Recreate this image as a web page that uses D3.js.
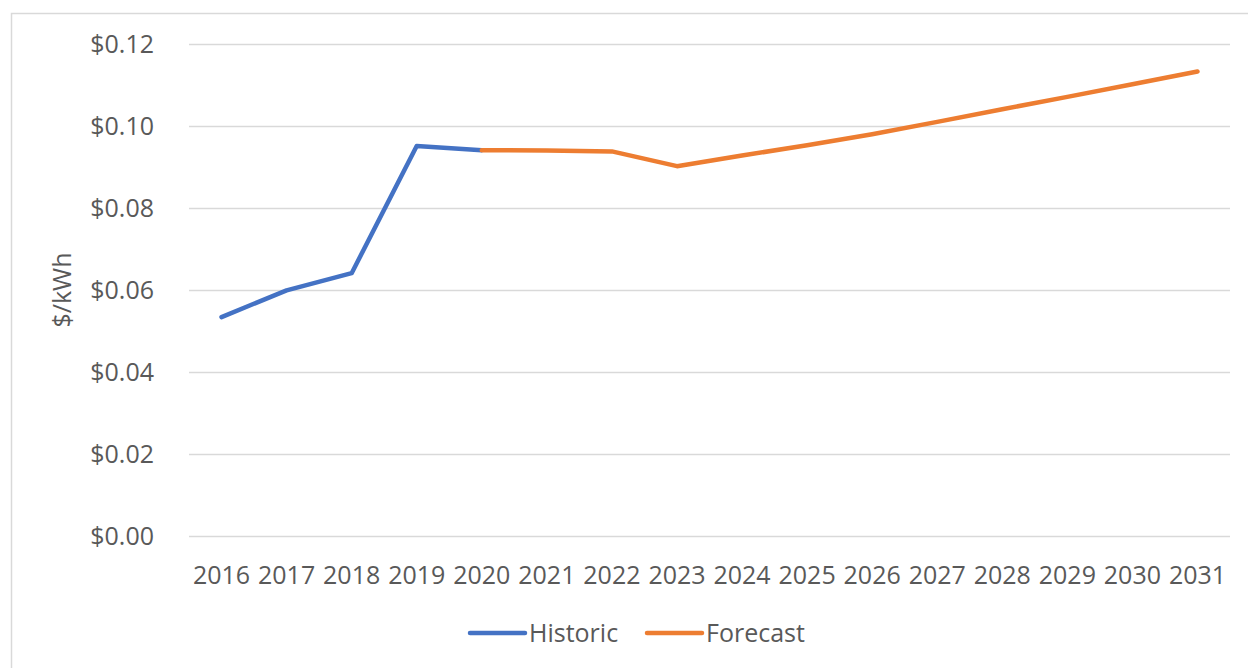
<!DOCTYPE html>
<html>
<head>
<meta charset="utf-8">
<script src="https://cdn.jsdelivr.net/npm/d3@7"></script>
<style>
  body { margin: 0; background: #fff; }
  text { font-family: "Open Sans", "Noto Sans", sans-serif; fill: #595959; }
</style>
</head>
<body>
<svg id="chart" width="1248" height="668"></svg>
<script>
const years = ['2016', '2017', '2018', '2019', '2020', '2021', '2022', '2023',
  '2024', '2025', '2026', '2027', '2028', '2029', '2030', '2031'];
const historic = [0.0534, 0.0599, 0.0641, 0.0951, 0.0941];
const forecast = [null, null, null, null, 0.0941, 0.0940, 0.0938, 0.0902,
  0.0928, 0.0953, 0.0980, 0.1010, 0.1041, 0.1071, 0.1102, 0.1133];
const yTicks = [0, 0.02, 0.04, 0.06, 0.08, 0.10, 0.12];
const seriesNames = ['Historic', 'Forecast'];
const seriesColors = ['#4472C4', '#ED7D31'];

const width = 1248;
const height = 668;
const margin = { left: 189, right: 18, top: 44, bottom: 132 };
const svg = d3.select('#chart');

// outer chart frame (only top and left edges are visible)
svg.append('path')
  .attr('d', `M11.5,${height} V13.5 H${width}`)
  .attr('fill', 'none')
  .attr('stroke', '#d9d9d9')
  .attr('stroke-width', 1.5);

const x = d3.scaleBand()
  .domain(years)
  .range([margin.left, width - margin.right]);

const y = d3.scaleLinear()
  .domain([0, 0.12])
  .range([height - margin.bottom, margin.top]);

// gridlines
svg.append('g')
  .selectAll('line')
  .data(yTicks)
  .enter()
  .append('line')
  .attr('x1', margin.left)
  .attr('x2', width - margin.right)
  .attr('y1', d => Math.round(y(d)) + 0.5)
  .attr('y2', d => Math.round(y(d)) + 0.5)
  .attr('stroke', '#d9d9d9')
  .attr('stroke-width', 1.5);

// y axis labels
const yAxis = svg.append('g')
  .attr('transform', `translate(${margin.left - 35},0)`)
  .call(d3.axisLeft(y).tickValues(yTicks).tickSize(0).tickFormat(d => '$' + d3.format('.2f')(d)));
yAxis.select('.domain').remove();
yAxis.selectAll('text')
  .attr('x', 0)
  .attr('dy', '0.35em')
  .style('font-size', '25px')
  .attr('fill', '#595959');

// x axis labels
const xAxis = svg.append('g')
  .attr('transform', `translate(0,${height - margin.bottom})`)
  .call(d3.axisBottom(x).tickSize(0));
xAxis.select('.domain').remove();
xAxis.selectAll('text')
  .attr('y', 39)
  .attr('dy', '0.35em')
  .style('font-size', '25px')
  .attr('fill', '#595959');

// y axis title
svg.append('text')
  .attr('transform', `translate(62,${(y(0) + y(0.12)) / 2}) rotate(-90)`)
  .attr('text-anchor', 'middle')
  .attr('dy', '0.35em')
  .style('font-size', '25px')
  .text('$/kWh');

const line = d3.line()
  .defined(d => d != null)
  .x((d, i) => x(years[i]) + x.bandwidth() / 2)
  .y(d => y(d));

[historic, forecast].forEach((values, i) => {
  svg.append('path')
    .datum(values)
    .attr('d', line)
    .attr('fill', 'none')
    .attr('stroke', seriesColors[i])
    .attr('stroke-width', 4.5)
    .attr('stroke-linejoin', 'round')
    .attr('stroke-linecap', 'round');
});

// legend
const legend = svg.append('g').attr('transform', 'translate(470,633)');
const legendX = [0, 177];
seriesNames.forEach((name, i) => {
  const g = legend.append('g').attr('transform', `translate(${legendX[i]},0)`);
  g.append('line')
    .attr('x1', 0).attr('x2', 55)
    .attr('stroke', seriesColors[i])
    .attr('stroke-width', 4.5)
    .attr('stroke-linecap', 'round');
  g.append('text')
    .attr('x', 59)
    .attr('dy', '0.35em')
    .style('font-size', '25px')
    .text(name);
});
</script>
</body>
</html>
